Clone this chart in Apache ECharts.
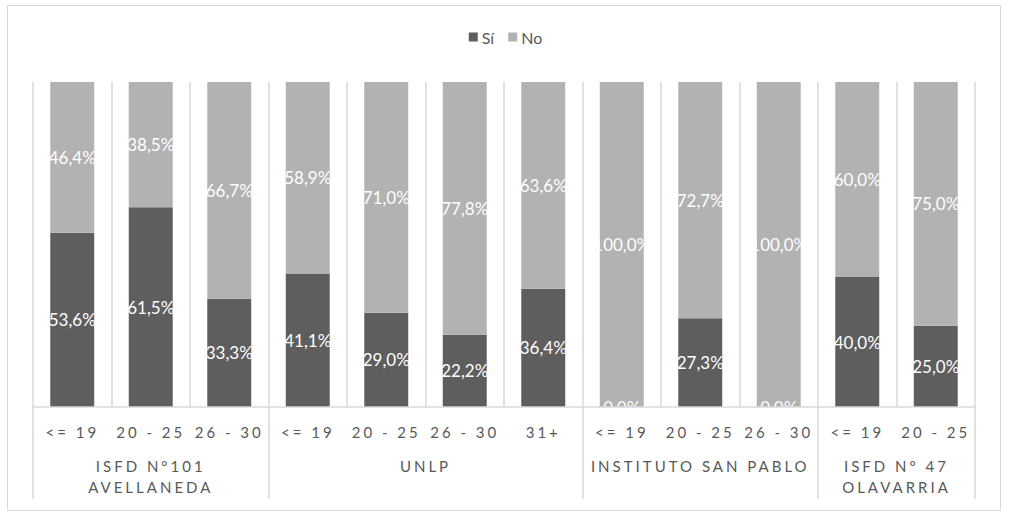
<!DOCTYPE html>
<html>
<head>
<meta charset="utf-8">
<script src="https://cdn.jsdelivr.net/npm/echarts@6/dist/echarts.min.js"></script>
<style>
  html, body { margin: 0; padding: 0; background: #ffffff; }
  #frame { position: absolute; left: 7px; top: 5px; width: 992px; height: 504px; border: 1.5px solid #d9d9d9; box-sizing: content-box; }
  #chart { position: absolute; left: 0; top: 0; width: 1011px; height: 519px; }
  #chart text[style*="Carlito"] { letter-spacing: 3px; }
</style>
</head>
<body>
<div id="frame"></div>
<div id="chart"></div>
<script>
// ---- data ----
var categories = ['<= 19', '20 - 25', '26 - 30', '<= 19', '20 - 25', '26 - 30', '31+', '<= 19', '20 - 25', '26 - 30', '<= 19', '20 - 25'];
var groupNames = ['ISFD N°101\nAVELLANEDA', 'UNLP', 'INSTITUTO SAN PABLO', 'ISFD N° 47\nOLAVARRIA'];
var groupSizes = [3, 4, 3, 2];
var siValues = [53.6, 61.5, 33.3, 41.1, 29.0, 22.2, 36.4, 0.0, 27.3, 0.0, 40.0, 25.0];
var noValues = [46.4, 38.5, 66.7, 58.9, 71.0, 77.8, 63.6, 100.0, 72.7, 100.0, 60.0, 75.0];
var seriesNames = ['Sí', 'No'];

// group boundaries and centers (in category units) for the second-level axis
var boundaries = [0];
var centers = [];
var acc = 0;
groupSizes.forEach(function (n) { centers.push(acc + n / 2); acc += n; boundaries.push(acc); });
var centerLabel = {};
centers.forEach(function (c, i) { centerLabel[c] = groupNames[i]; });

function fmt(v) { return v.toFixed(1).replace('.', ',') + '%'; }

var chart = echarts.init(document.getElementById('chart'), null, { renderer: 'svg' });
var labelStyle = {
  show: true, position: 'inside', color: '#ffffff', fontFamily: 'Lato', fontSize: 17,
  formatter: function (p) { return fmt(p.value); }
};
chart.setOption({
  animation: false,
  backgroundColor: 'transparent',
  legend: {
    data: seriesNames, top: 24, left: 'center', itemWidth: 9, itemHeight: 9, itemGap: 14,
    icon: 'rect',
    textStyle: { fontFamily: 'Lato', fontSize: 16, color: '#595959', padding: [0, 0, 0, -1] }
  },
  grid: { left: 33, right: 36, top: 82, bottom: 112, containLabel: false },
  xAxis: [
    {
      type: 'category', data: categories, position: 'bottom', z: 10,
      axisLine: { show: true, lineStyle: { color: '#d9d9d9', width: 1.5 } },
      axisTick: { show: false },
      splitLine: { show: true, interval: 0, lineStyle: { color: '#d9d9d9', width: 1.5 } },
      axisLabel: { interval: 0, margin: 17, color: '#595959', fontFamily: 'Lato, Carlito', fontSize: 15 }
    },
    {
      type: 'value', min: 0, max: boundaries[boundaries.length - 1], position: 'bottom',
      axisLine: { show: false },
      splitLine: { show: false },
      axisTick: { show: true, customValues: boundaries, length: 92, lineStyle: { color: '#d9d9d9', width: 1.5 } },
      axisLabel: {
        show: true, customValues: centers, margin: 48, color: '#595959',
        fontFamily: 'Lato, Carlito', fontSize: 15, lineHeight: 21, align: 'center',
        formatter: function (v) { return centerLabel[v] || ''; }
      }
    }
  ],
  yAxis: { type: 'value', min: 0, max: 100, show: false, splitLine: { show: false } },
  series: [
    { name: seriesNames[0], type: 'bar', stack: 'total', data: siValues, barCategoryGap: '44%',
      itemStyle: { color: '#5e5e5e' }, label: labelStyle },
    { name: seriesNames[1], type: 'bar', stack: 'total', data: noValues, barCategoryGap: '44%',
      itemStyle: { color: '#b2b2b2' }, label: labelStyle }
  ]
});
</script>
</body>
</html>
